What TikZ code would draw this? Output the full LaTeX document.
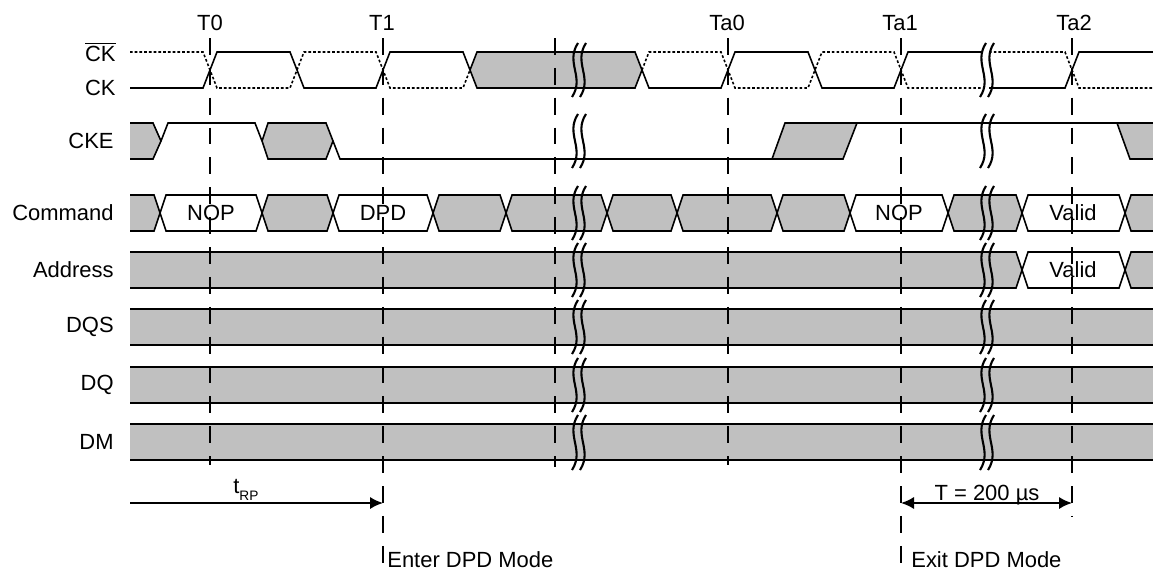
\documentclass[tikz,border=0pt]{standalone}
\usepackage{fontspec}
\setmainfont{Liberation Sans}
\usetikzlibrary{arrows.meta}
\definecolor{busgray}{RGB}{192,192,192}
\tikzset{
  wave/.style={line width=0.9pt, black},
  ckdots/.style={line width=0.9pt, black, dash pattern=on 1.5pt off 1.2pt},
  edgeline/.style={line width=0.6pt, dash pattern=on 9.6pt off 7.4pt},
  markline/.style={line width=1.2pt, dash pattern=on 9.6pt off 7.4pt},
  brk/.style={line width=1.2pt, black},
  signame/.style={anchor=east, inner sep=0pt},
  every node/.style={font=\fontsize{12.5}{15}\selectfont}
}
\begin{document}
\begin{tikzpicture}[x=0.02cm, y=-0.02cm]
    \useasboundingbox (0,0) rectangle (1153,575);

    % Signal names
    \node[signame] (lckbar) at (116,52) {$\overline{\mbox{CK}}$};
    \node[signame] (lck) at (116,88) {CK};
    \node[signame] (lcke) at (114,141) {CKE};
    \node[signame] (lcmd) at (114,213) {Command};
    \node[signame] (laddr) at (114,270) {Address};
    \node[signame] (ldqs) at (114,327) {DQS};
    \node[signame] (ldq) at (114,385) {DQ};
    \node[signame] (ldm) at (114,442) {DM};

    % Clock edge names
    \node (t0) at (210,23) {T0};
    \node (t1) at (382,23) {T1};
    \node (ta0) at (727,23) {Ta0};
    \node (ta1) at (900,23) {Ta1};
    \node (ta2) at (1074,23) {Ta2};

    % CK and CK#
    \draw[wave, fill=busgray] (470,70) -- (477,52) -- (635,52) -- (642,70) -- (635,88) -- (477,88) -- cycle;
    \draw[wave] (130,88) -- (203,88) -- (217,52) -- (290,52) -- (304,88) -- (376,88) -- (390,52) -- (463,52) -- (470,70);
    \draw[wave] (642,70) -- (649,88) -- (721,88) -- (735,52) -- (808,52) -- (822,88) -- (894,88) -- (908,52) -- (981,52);
    \draw[wave] (989,88) -- (1065,88) -- (1079,52) -- (1153,52);
    \draw[ckdots] (130,52) -- (203,52) -- (217,88) -- (290,88) -- (304,52) -- (376,52) -- (390,88) -- (463,88) -- (470,70);
    \draw[ckdots] (642,70) -- (649,52) -- (721,52) -- (735,88) -- (808,88) -- (822,52) -- (894,52) -- (908,88) -- (981,88);
    \draw[ckdots] (989,52) -- (1065,52) -- (1079,88) -- (1153,88);

    % CKE
    \fill[busgray] (130,123) -- (153,123) -- (161,141) -- (153,159) -- (130,159) -- cycle;
    \draw[wave] (130,123) -- (153,123) -- (161,141) -- (153,159) -- (130,159);
    \draw[wave] (161,141) -- (168,123) -- (255,123) -- (262,141);
    \draw[wave, fill=busgray] (262,141) -- (268,123) -- (326,123) -- (333,141) -- (326,159) -- (268,159) -- cycle;
    \draw[wave] (333,141) -- (340,159) -- (772,159);
    \draw[wave, fill=busgray] (772,159) -- (785,123) -- (857,123) -- (843,159) -- cycle;
    \fill[busgray] (1117,123) -- (1153,123) -- (1153,159) -- (1130,159) -- cycle;
    \draw[wave] (785,123) -- (1153,123);
    \draw[wave] (1117,123) -- (1130,159) -- (1153,159);

    % Command
    \fill[busgray] (130,195) -- (154,195) -- (160,213) -- (154,231) -- (130,231) -- cycle;
    \draw[wave] (130,195) -- (154,195) -- (160,213) -- (154,231) -- (130,231);
    \foreach \a/\b/\c in {160/262/white, 262/333/busgray, 333/433/white, 433/506/busgray,
        506/607/busgray, 607/677/busgray, 677/777/busgray, 777/850/busgray,
        850/948/white, 948/1022/busgray, 1022/1125/white}
      \draw[wave, fill=\c] (\a,213) -- (\a+6,195) -- (\b-6,195) -- (\b,213) -- (\b-6,231) -- (\a+6,231) -- cycle;
    \fill[busgray] (1153,195) -- (1131,195) -- (1125,213) -- (1131,231) -- (1153,231) -- cycle;
    \draw[wave] (1153,195) -- (1131,195) -- (1125,213) -- (1131,231) -- (1153,231);
    \node (nop1) at (211,213) {NOP};
    \node (dpd) at (383,213) {DPD};
    \node (nop2) at (899,213) {NOP};
    \node (cmdvalid) at (1073,213) {Valid};

    % Address
    \fill[busgray] (130,252) -- (1016,252) -- (1022,270) -- (1016,288) -- (130,288) -- cycle;
    \draw[wave] (130,252) -- (1016,252) -- (1022,270) -- (1016,288) -- (130,288);
    \draw[wave, fill=white] (1022,270) -- (1028,252) -- (1119,252) -- (1125,270) -- (1119,288) -- (1028,288) -- cycle;
    \fill[busgray] (1153,252) -- (1131,252) -- (1125,270) -- (1131,288) -- (1153,288) -- cycle;
    \draw[wave] (1153,252) -- (1131,252) -- (1125,270) -- (1131,288) -- (1153,288);
    \node (addrvalid) at (1073,270) {Valid};

    % DQS, DQ, DM
    \foreach \t in {309,367,424} {
      \fill[busgray] (130,\t) rectangle (1153,\t+36);
      \draw[wave] (130,\t) -- (1153,\t) (130,\t+36) -- (1153,\t+36);
    }

    % Clock edge lines
    \foreach \x/\e in {210/465, 383/575, 728/465, 901/575}
      \draw[edgeline] (\x,38) -- (\x,\e);
    \draw[markline] (555,38) -- (555,467);
    \draw[markline] (1072,38) -- (1072,517);

    % Breaks
    \foreach \t/\b in {52/88, 123/159, 195/231, 252/288, 309/345, 367/403, 424/461}
      \foreach \x in {575, 583, 983, 991}
        \draw[brk] (\x+3,\t-9) .. controls (\x-10,{\t+0.3*(\b-\t)}) and (\x+10,{\b-0.3*(\b-\t)}) .. (\x-3,\b+9);

    % Timing
    \coordinate (rpstart) at (130,503);
    \coordinate (t1mark) at (383,503);
    \coordinate (ta1mark) at (901,503);
    \coordinate (ta2mark) at (1072,503);
    \draw[line width=1.1pt, -{Latex[length=7.4pt, width=7pt]}] (rpstart) -- (t1mark);
    \draw[line width=1.1pt, {Latex[length=7.4pt, width=7pt]}-{Latex[length=7.4pt, width=7pt]}] (ta1mark) -- (ta2mark);
    \node[anchor=base west, inner sep=0pt] (trp) at (233,493) {t\raisebox{-4pt}{\fontsize{7.8}{9}\selectfont RP}};
    \node[anchor=base, inner sep=0pt] (t200) at (987,500) {T = 200 µs};
    \node[anchor=west, inner sep=0pt] (enter) at (387,560) {Enter DPD Mode};
    \node[anchor=west, inner sep=0pt] (exit) at (911,560) {Exit DPD Mode};
\end{tikzpicture}
\end{document}
